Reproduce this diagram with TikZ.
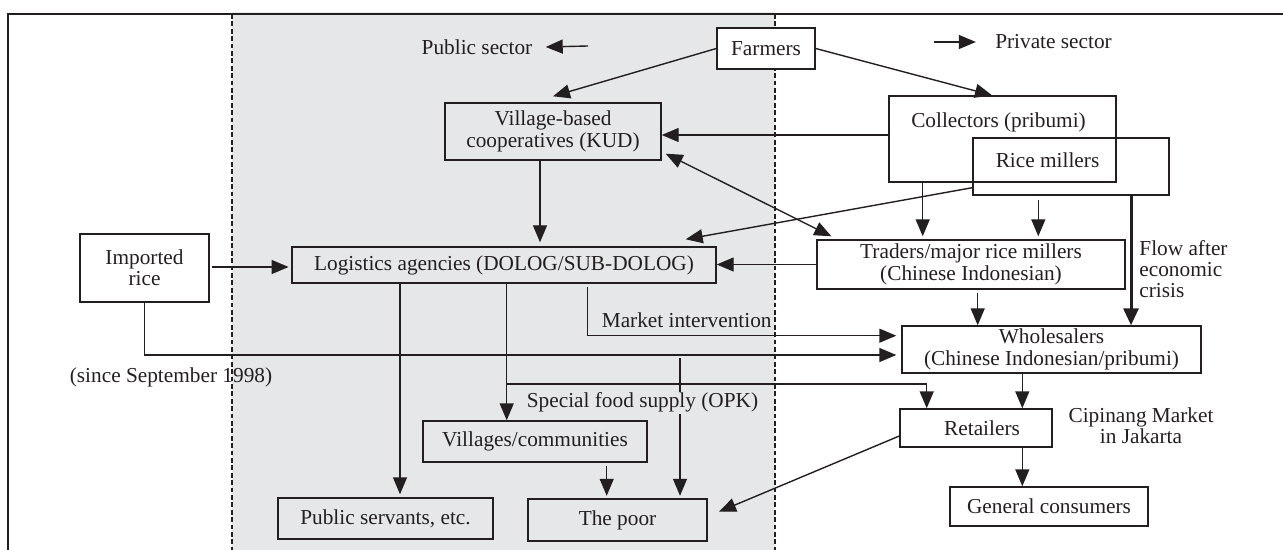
\documentclass[tikz,border=0pt]{standalone}
\usepackage{fontspec}
\setmainfont{Liberation Serif}
\usetikzlibrary{arrows.meta}
\definecolor{ink}{RGB}{35,31,32}
\definecolor{bggray}{RGB}{230,231,232}
\begin{document}
\begin{tikzpicture}[x=0.5pt,y=-0.5pt,
  every node/.append style={font=\fontsize{10.65pt}{10.65pt}\selectfont, text=ink},
  box/.style={draw=ink, line width=0.7pt, inner sep=0pt, align=center},
  lbl/.style={inner sep=0pt, align=center},
  arr/.style={draw=ink, line width=0.7pt, -{Triangle[length=8.5pt,width=7pt]}},
  dblarr/.style={draw=ink, line width=0.7pt, {Triangle[length=8.5pt,width=7pt]}-{Triangle[length=8.5pt,width=7pt]}},
  arrthick/.style={draw=ink, line width=1.5pt, -{Triangle[length=8.5pt,width=7.5pt]}},
  sector/.style={draw=ink, line width=0.65pt, dash pattern=on 2.4pt off 1.3pt}
]
\useasboundingbox (0,0) rectangle (1283,550);
% public sector background
\fill[bggray] (232,12) rectangle (775,550);
% text under the dashed line
\node[lbl] (since) at (171,377) {(since September 1998)};
% sector boundaries
\draw[sector] (232,14) -- (232,550);
\draw[sector] (775,14) -- (775,550);
% frame
\draw[ink, line width=1pt] (8,550) -- (8,14) -- (1283,14);

% labels
\node[lbl] (pubsec) at (477,47) {Public sector};
\node[lbl] (privsec) at (1053.5,42) {Private sector};
\coordinate (psa) at (588,46);
\coordinate (pva) at (934,42);

% boxes
\node[box, fill=white, minimum width=49pt, minimum height=20.5pt] (farmers) at (766,48.5) {Farmers};
\node[box, minimum width=108pt, minimum height=28.5pt] (kud) at (553,131.5) {Village-based\\cooperatives (KUD)};
\node[box, minimum width=113.5pt, minimum height=43pt] (coll) at (1002.5,139) {};
\node[lbl] (colltxt) at (998.5,122) {Collectors (pribumi)};
\node[box, minimum width=98pt, minimum height=28.5pt] (mill) at (1071,166.5) {};
\node[lbl] (milltxt) at (1047.5,160) {Rice millers};
\node[box, minimum width=212pt, minimum height=18pt] (log) at (504,265) {Logistics agencies (DOLOG/SUB-DOLOG)};
\node[box, minimum width=64.5pt, minimum height=34pt] (imp) at (144.5,268) {Imported\\rice};
\node[box, minimum width=154pt, minimum height=24.5pt] (trad) at (971,264.5) {Traders/major rice millers\\(Chinese Indonesian)};
\node[box, minimum width=149.5pt, minimum height=23.5pt] (whole) at (1051.5,349.5) {Wholesalers\\(Chinese Indonesian/pribumi)};
\node[box, minimum width=76pt, minimum height=19pt] (ret) at (976,428) {\hspace*{6pt}Retailers};
\node[box, minimum width=99pt, minimum height=19.5pt] (gen) at (1049,506.5) {General consumers};
\node[box, minimum width=112pt, minimum height=20.5pt] (vill) at (535,441.5) {Villages/communities};
\node[box, minimum width=107.5pt, minimum height=20.5pt] (pub) at (385.5,518.5) {Public servants, etc.};
\node[box, minimum width=89.5pt, minimum height=21pt] (poor) at (617.5,520) {The poor};

\node[lbl, anchor=west, align=left] (flow) at (1139,269) {Flow after\\economic\\crisis};
\node[lbl] (mi) at (686.7,320) {Market intervention};
\node[lbl] (cip) at (1141,426) {Cipinang Market\\in Jakarta};

\coordinate (opkbr) at (506.7,384);
\coordinate (impbr) at (680,358);

% connectors
\draw[arr] (psa) -- ([xshift=6.5pt]pubsec.east);
\draw[arr] (pva) -- ([xshift=-9.5pt]privsec.west);
\draw[arr] (farmers.west) -- ([yshift=3pt]kud.north);
\draw[arr] (farmers.east) -- ([xshift=-5.25pt]coll.north);
\draw[arr] ([yshift=2pt]coll.west) -- ([yshift=2pt]coll.west -| kud.east);
\draw[dblarr] ([xshift=2pt,yshift=3.5pt]kud.south east) -- ([xshift=7.5pt,yshift=1.5pt]trad.north west);
\draw[arr] ([yshift=4pt]mill.south west) -- ([xshift=-15.5pt,yshift=3.5pt]log.north east);
\draw[arr, shorten >=2pt] ([xshift=-6.5pt]kud.south) -- ([xshift=-6.5pt]kud.south |- log.north);
\draw[arr, shorten <=1.35pt, shorten >=1.35pt] ([yshift=0.5pt]imp.east) -- ([yshift=0.5pt]imp.east -| log.west);
\draw[arr] (trad.west) -- (trad.west -| log.east);
\draw[arr, shorten >=2.5pt] (imp.south) |- ([yshift=-2.75pt]whole.west);
\draw[arr, shorten >=1.5pt] ([xshift=-39.9pt]coll.south) -- ([xshift=-39.9pt]coll.south |- trad.north);
\draw[arr, shorten <=2pt, shorten >=1.5pt] ([xshift=-16.35pt]mill.south) -- ([xshift=-16.35pt]mill.south |- trad.north);
\draw[arrthick] ([xshift=30pt]mill.south) -- ([xshift=30pt]mill.south |- whole.north);
\draw[arr, shorten <=1.75pt] ([xshift=3.35pt]trad.south) -- ([xshift=3.35pt]trad.south |- whole.north);
\draw[arr, shorten <=1.75pt, shorten >=2.5pt] ([xshift=41.85pt]log.south) |- ([yshift=6.9pt]whole.west);
\draw[arr, shorten >=1.5pt] ([xshift=-52pt]log.south) -- ([xshift=-52pt]log.south |- pub.north);
\draw[arr] ([xshift=1.35pt]log.south) -- ([xshift=1.35pt]log.south |- vill.north);
\draw[arr] (opkbr) -| ([xshift=-24.65pt]ret.north);
\draw[arr, shorten >=1.25pt] (impbr) -- (impbr |- poor.north);
\draw[arr, shorten <=1.5pt, shorten >=1.25pt] ([xshift=35.85pt]vill.south) -- ([xshift=35.85pt]vill.south |- poor.north);
\draw[arr] ([yshift=-4pt]ret.west) -- ([xshift=5.65pt,yshift=4.15pt]poor.east);
\draw[arr] ([xshift=-14.6pt]whole.south) -- ([xshift=-14.6pt]whole.south |- ret.north);
\draw[arr] ([xshift=23.15pt]ret.south) -- ([xshift=23.15pt]ret.south |- gen.north);

\node[lbl, fill=bggray, inner sep=0.6pt] (opk) at (642.5,402.7) {Special food supply (OPK)};
\end{tikzpicture}
\end{document}
